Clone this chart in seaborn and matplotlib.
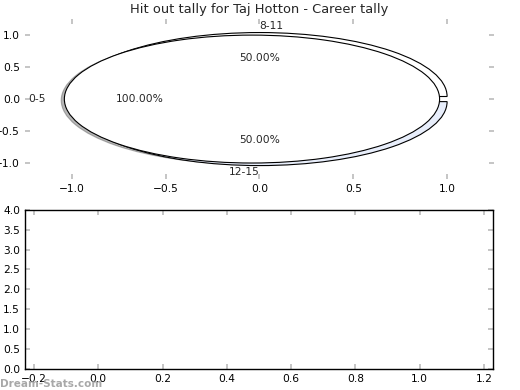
import matplotlib
matplotlib.use("Agg")
import matplotlib.pyplot as plt
import seaborn as sns

# pie data (each bucket drawn as its own pie)
buckets = ["0-5", "8-11", "12-15"]
fractions = [1.0, 0.5, 0.5]
start_angles = [0, 0, 180]
fill_colors = ["white", "white", "#e8eefb"]
label_ha = ["right", "left", "right"]

sns.set_theme(style="white", rc={
    "font.family": "DejaVu Sans",
    "font.size": 7.7,
    "xtick.labelsize": 7.7,
    "ytick.labelsize": 7.7,
    "xtick.direction": "in",
    "ytick.direction": "in",
    "xtick.color": "#bbbbbb",
    "ytick.color": "#bbbbbb",
    "xtick.labelcolor": "black",
    "ytick.labelcolor": "black",
    "xtick.major.size": 3.5,
    "ytick.major.size": 3.5,
    "xtick.major.width": 1.2,
    "ytick.major.width": 1.2,
    "xtick.major.pad": 3.5,
    "ytick.major.pad": 3.5,
    "axes.edgecolor": "black",
    "axes.linewidth": 1.0,
})

fig = plt.figure(figsize=(5.2, 3.9), dpi=100)
ax1 = fig.add_axes([0.048, 0.541, 0.902, 0.410])
ax2 = fig.add_axes([0.048, 0.054, 0.900, 0.408])

# the full 0-5 wedge sits on top of the two half wedges
for i in [1, 2, 0]:
    shadow = {"ox": -0.012, "oy": -0.014, "alpha": 0.4} if i == 0 else False
    wedges, texts, pcts = ax1.pie(
        [fractions[i]], labels=[buckets[i]], explode=[0.04],
        startangle=start_angles[i], normalize=False, autopct="%.2f%%",
        shadow=shadow, colors=[fill_colors[i]],
        wedgeprops={"edgecolor": "black", "linewidth": 0.8},
        textprops={"fontsize": 7.7})
    for w in wedges:
        w.set_zorder(2 if i == 0 else 1)
    for t in texts:
        t.set_ha(label_ha[i])
    for t in pcts:
        t.set_zorder(3)

ax1.set_aspect("auto")
ax1.set_frame_on(False)
ax1.set_xlim(-1.25, 1.25)
ax1.set_ylim(-1.25, 1.25)
ax1.set_xticks([-1.0, -0.5, 0.0, 0.5, 1.0])
ax1.set_yticks([-1.0, -0.5, 0.0, 0.5, 1.0])
ax1.tick_params(top=True, right=True, bottom=True, left=True)
ax1.set_title("Hit out tally for Taj Hotton - Career tally", fontsize=9.4, pad=4.5)

# empty lower panel
ax2.set_xlim(-0.228, 1.228)
ax2.set_ylim(0, 4)
ax2.set_xticks([-0.2, 0.0, 0.2, 0.4, 0.6, 0.8, 1.0, 1.2])
ax2.set_yticks([0.0, 0.5, 1.0, 1.5, 2.0, 2.5, 3.0, 3.5, 4.0])
ax2.tick_params(top=True, right=True, bottom=True, left=True)
for s in ax2.spines.values():
    s.set_visible(True)
    s.set_color("black")

fig.text(0.0, 0.016, "Dream-Stats.com", fontsize=7.5, color="#999999",
         ha="left", va="center", fontweight="bold", alpha=0.85)

fig.savefig("out.png", dpi=100)
